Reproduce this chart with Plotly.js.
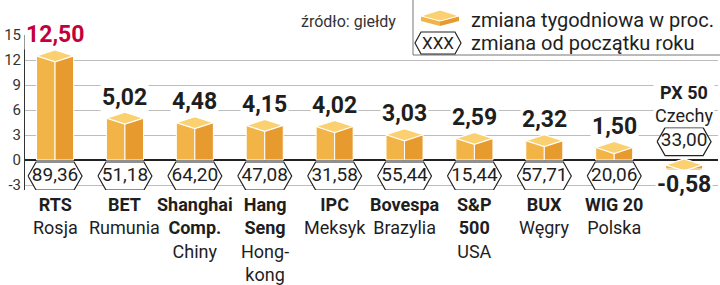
<!DOCTYPE html>
<html><head><meta charset="utf-8">
<script src="https://cdn.plot.ly/plotly-3.0.1.min.js"></script>
<style>html,body{margin:0;padding:0;background:#fff}#chart{width:720px;height:285px}</style>
</head><body><div id="chart"></div>
<script>
// ---- data ----
const indexNames = ['RTS', 'BET', 'Shanghai<br>Comp.', 'Hang<br>Seng', 'IPC', 'Bovespa', 'S&P<br>500', 'BUX', 'WIG 20', 'PX 50'];
const countries = ['Rosja', 'Rumunia', 'Chiny', 'Hong-<br>kong', 'Meksyk', 'Brazylia', 'USA', 'Węgry', 'Polska', 'Czechy'];
const weeklyChange = [12.50, 5.02, 4.48, 4.15, 4.02, 3.03, 2.59, 2.32, 1.50, -0.58];
const ytdChange = [89.36, 51.18, 64.20, 47.08, 31.58, 55.44, 15.44, 57.71, 20.06, 33.00];
const yTicks = [-3, 0, 3, 6, 9, 12, 15];

// ---- styling / geometry ----
const FONT = 'Roboto, "Open Sans", sans-serif';
const COL_L = '#f2b447', COL_R = '#e79a2d', COL_TOP = '#fad070';
const TXT = '#1e1e1e';
const W = 0.265, DY = 0.72, T = 0.5;        // box half width, top rhombus half height, thickness
const HX = 0.386, HP = 0.114, HY = 1.68;     // hexagon geometry
const fmt = v => v.toFixed(2).replace('.', ',');
const idx = weeklyChange.map((_, i) => i);
const maxV = Math.max(...weeklyChange);

// plot area in px: x 25..718, y 35..190
const L = 25, R = 2, TOP = 35, B = 95, PW = 720 - L - R, PH = 285 - TOP - B;
const px = x => (x - L) / PW, py = y => (285 - B - y) / PH;

const traces = [];
// front faces (bars)
const base = weeklyChange.map(v => v >= 0 ? 0 : v - T);
const hgt = weeklyChange.map(v => v >= 0 ? v : T);
traces.push({type: 'bar', x: idx, y: hgt, base: base, offset: -W, width: W,
  marker: {color: COL_L, line: {color: '#fff', width: 1}}, hoverinfo: 'skip'});
traces.push({type: 'bar', x: idx, y: hgt, base: base, offset: 0, width: W,
  marker: {color: COL_R, line: {color: '#fff', width: 1}}, hoverinfo: 'skip'});
// slanted lower parts of negative boxes
const nlx = [], nly = [], nrx = [], nry = [];
weeklyChange.forEach((v, i) => {
  if (v < 0) {
    nlx.push(i - W, i, i, i - W, null); nly.push(v - T, v - T, v - DY - T, v - T, null);
    nrx.push(i, i + W, i, i, null); nry.push(v - T, v - T, v - DY - T, v - T, null);
  }
});
traces.push({type: 'scatter', x: nlx, y: nly, mode: 'lines', fill: 'toself', fillcolor: COL_L, line: {width: 0}, hoverinfo: 'skip'});
traces.push({type: 'scatter', x: nrx, y: nry, mode: 'lines', fill: 'toself', fillcolor: COL_R, line: {width: 0}, hoverinfo: 'skip'});
// top rhombus
const tx = [], ty = [];
weeklyChange.forEach((v, i) => {
  tx.push(i - W, i, i + W, i, i - W, null);
  ty.push(v, v + DY, v, v - DY, v, null);
});
traces.push({type: 'scatter', x: tx, y: ty, mode: 'lines', fill: 'toself', fillcolor: COL_TOP,
  line: {color: '#fff', width: 1.3}, hoverinfo: 'skip'});
// hexagons with year-to-date change
const hexY = weeklyChange.map(v => v >= 0 ? -1.92 : 2.2);
const hx = [], hy = [];
idx.forEach(i => {
  const c = hexY[i];
  hx.push(i - HX, i - HX + HP, i + HX - HP, i + HX, i + HX - HP, i - HX + HP, i - HX, null);
  hy.push(c, c + HY, c + HY, c, c - HY, c - HY, c, null);
});
traces.push({type: 'scatter', x: hx, y: hy, mode: 'lines', fill: 'toself', fillcolor: '#fff',
  line: {color: '#222', width: 1.2}, hoverinfo: 'skip'});
traces.push({type: 'scatter', x: idx, y: hexY, mode: 'text', text: ytdChange.map(fmt),
  textfont: {family: FONT, size: 19, color: TXT}, textposition: 'middle center', hoverinfo: 'skip'});

const annotations = [];
// value labels
weeklyChange.forEach((v, i) => {
  annotations.push({x: i, y: v, xref: 'x', yref: 'y', text: '<b>' + fmt(v) + '</b>',
    showarrow: false, yanchor: 'middle', yshift: v >= 0 ? 21 : -20, bgcolor: '#fff', borderpad: 1,
    font: {family: FONT, size: 23, color: v === maxV ? '#c4003b' : TXT}});
});
// category labels
indexNames.forEach((n, i) => {
  const txt = '<b>' + n + '</b><br>' + countries[i];
  if (weeklyChange[i] >= 0) {
    annotations.push({x: i, y: 0, xref: 'x', yref: 'paper', yanchor: 'top', yshift: -2, text: txt,
      showarrow: false, align: 'center', font: {family: FONT, size: 18, color: TXT}});
  } else {
    annotations.push({x: i, y: 6.7, xref: 'x', yref: 'y', yanchor: 'middle', text: txt,
      showarrow: false, align: 'center', bgcolor: '#fff', font: {family: FONT, size: 18, color: TXT}});
  }
});
// source
annotations.push({x: px(398), y: py(22), xref: 'paper', yref: 'paper', xanchor: 'right', yanchor: 'middle',
  text: 'źródło: giełdy', showarrow: false, font: {family: FONT, size: 16, color: '#333'}});
// legend texts
annotations.push({x: px(469), y: py(20), xref: 'paper', yref: 'paper', xanchor: 'left', yanchor: 'middle',
  text: 'zmiana tygodniowa w proc.', showarrow: false, font: {family: FONT, size: 20, color: TXT}});
annotations.push({x: px(469), y: py(43), xref: 'paper', yref: 'paper', xanchor: 'left', yanchor: 'middle',
  text: 'zmiana od początku roku', showarrow: false, font: {family: FONT, size: 20, color: TXT}});
annotations.push({x: px(438), y: py(43), xref: 'paper', yref: 'paper', xanchor: 'center', yanchor: 'middle',
  text: 'XXX', showarrow: false, font: {family: FONT, size: 17, color: TXT}});

// legend shapes (pixel geometry in paper coords)
const poly = pts => 'M' + pts.map(p => px(p[0]) + ',' + py(p[1])).join('L') + 'Z';
const shapes = [
  {type: 'rect', xref: 'paper', yref: 'paper', x0: px(413), x1: px(722), y0: py(55), y1: py(-2),
    line: {color: '#777', width: 1}, fillcolor: '#fff', layer: 'above'},
  {type: 'path', xref: 'paper', yref: 'paper', path: poly([[421, 16], [440, 21], [440, 26], [421, 21]]),
    fillcolor: COL_L, line: {width: 0}, layer: 'above'},
  {type: 'path', xref: 'paper', yref: 'paper', path: poly([[440, 21], [459, 16], [459, 21], [440, 26]]),
    fillcolor: COL_R, line: {width: 0}, layer: 'above'},
  {type: 'path', xref: 'paper', yref: 'paper', path: poly([[421, 16], [440, 10], [459, 16], [440, 21]]),
    fillcolor: COL_TOP, line: {color: '#fff', width: 1}, layer: 'above'},
  {type: 'path', xref: 'paper', yref: 'paper', path: poly([[415, 43], [421, 32], [455, 32], [461, 43], [455, 54], [421, 54]]),
    fillcolor: 'rgba(0,0,0,0)', line: {color: '#222', width: 1.2}, layer: 'above'}
];

const layout = {
  width: 720, height: 285,
  margin: {l: L, r: R, t: TOP, b: B, pad: 0},
  paper_bgcolor: '#fff', plot_bgcolor: '#fff',
  showlegend: false, barmode: 'overlay',
  font: {family: FONT, color: TXT},
  xaxis: {range: [-0.43, 9.485], showgrid: false, zeroline: false, showticklabels: false, showline: false, fixedrange: true},
  yaxis: {range: [-3.6, 15], tickvals: yTicks, ticktext: yTicks.map(String), showgrid: true, gridcolor: '#bdbdbd', gridwidth: 1,
    zeroline: true, zerolinecolor: '#222', zerolinewidth: 2, showline: true, linecolor: '#333', linewidth: 1,
    ticks: '', tickfont: {family: FONT, size: 15, color: '#333'}, fixedrange: true},
  annotations: annotations,
  shapes: shapes
};
Plotly.newPlot('chart', traces, layout, {displayModeBar: false, staticPlot: true});
</script>
</body></html>
